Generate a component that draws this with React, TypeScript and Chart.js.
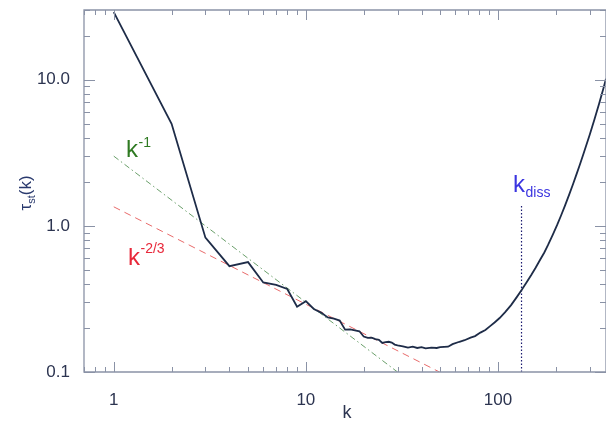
import React, { useEffect, useRef } from "react";
import { Chart, registerables } from "chart.js";

Chart.register(...registerables);

// Main curve: tau_st(k)
const kValues = [
  1, 2, 3, 4, 5, 6, 7, 8, 9, 10, 11, 12, 13, 14, 15, 16, 17, 18, 19, 20,
  21, 22, 23, 24, 25, 26, 27, 28, 29, 30, 32, 34, 36, 38, 40, 42, 45, 48, 50,
  55, 58, 63, 67, 72, 76, 81, 86, 91, 96, 102, 109, 117, 125, 133, 141, 149,
  157, 166, 174, 182, 193, 203, 213, 223, 235, 246, 257, 267, 279, 291, 300,
  309, 318, 328, 336, 344, 352, 361, 365,
];
const tauValues = [
  29, 5.0, 0.83, 0.53, 0.565, 0.41, 0.395, 0.37, 0.28, 0.305, 0.27, 0.255,
  0.236, 0.232, 0.225, 0.195, 0.196, 0.193, 0.19, 0.175, 0.171, 0.172, 0.168,
  0.166, 0.158, 0.16, 0.161, 0.159, 0.154, 0.152, 0.15, 0.147, 0.149, 0.146,
  0.148, 0.145, 0.147, 0.146, 0.148, 0.149, 0.155, 0.161, 0.165, 0.172, 0.176,
  0.186, 0.194, 0.206, 0.218, 0.234, 0.257, 0.287, 0.324, 0.365, 0.411, 0.461,
  0.517, 0.588, 0.655, 0.737, 0.87, 1.011, 1.177, 1.37, 1.642, 1.936, 2.276,
  2.631, 3.125, 3.7, 4.19, 4.744, 5.364, 6.147, 6.855, 7.641, 8.507, 9.616,
  10.14,
];

// Reference power laws
const kSlope1 = [1, 30];
const tauSlope1 = [3.0, 0.1];
const kSlope23 = [1, 49.6];
const tauSlope23 = [1.35, 0.1];

// Dissipation wavenumber marker
const kDissX = [132.6, 132.6];
const kDissY = [0.1, 1.4];

// Axis ticks
const xTickValues = [1, 10, 100];
const yTickValues = [0.1, 1, 10];

const X_MIN = 0.7;
const X_MAX = 365;
const Y_MIN = 0.1;
const Y_MAX = 30;

const FONT = '"Liberation Sans", Arial, Helvetica, sans-serif';
const FRAME = "#8a92a6";
const LABEL = "#2c3450";

const zip = (xs: number[], ys: number[]) => xs.map((x, i) => ({ x, y: ys[i] }));

function minorValues(min: number, max: number): { v: number; major: boolean }[] {
  const out: { v: number; major: boolean }[] = [];
  for (let e = -3; e <= 4; e++) {
    for (let m = 1; m <= 9; m++) {
      const v = m * Math.pow(10, e);
      if (v >= min * 0.9999 && v <= max * 1.0001) out.push({ v, major: m === 1 });
    }
  }
  return out;
}

const framePlugin = {
  id: "framePlugin",
  afterDatasetsDraw(chart: any) {
    const { ctx, chartArea } = chart;
    const xs = chart.scales.x;
    const ys = chart.scales.y;
    const { left, right, top, bottom } = chartArea;
    ctx.save();
    ctx.strokeStyle = FRAME;
    ctx.lineWidth = 1.3;
    ctx.beginPath();
    ctx.rect(left, top, right - left, bottom - top);
    ctx.stroke();

    ctx.lineWidth = 1;
    ctx.beginPath();
    for (const t of minorValues(X_MIN, X_MAX)) {
      const px = Math.round(xs.getPixelForValue(t.v)) + 0.5;
      const len = t.major ? 10 : 5;
      ctx.moveTo(px, bottom);
      ctx.lineTo(px, bottom - len);
      ctx.moveTo(px, top);
      ctx.lineTo(px, top + len);
    }
    for (const t of minorValues(Y_MIN, Y_MAX)) {
      const py = Math.round(ys.getPixelForValue(t.v)) + 0.5;
      const len = t.major ? 11 : 6;
      ctx.moveTo(left, py);
      ctx.lineTo(left + len, py);
      ctx.moveTo(right, py);
      ctx.lineTo(right - len, py);
    }
    ctx.stroke();

    // annotations
    ctx.textBaseline = "alphabetic";
    ctx.textAlign = "left";
    const drawPow = (
      base: string,
      sup: string,
      x: number,
      y: number,
      color: string,
      baseSize: number,
      supSize: number,
      supDy: number
    ) => {
      ctx.fillStyle = color;
      ctx.font = `${baseSize}px ${FONT}`;
      ctx.fillText(base, x, y);
      const w = ctx.measureText(base).width;
      ctx.font = `${supSize}px ${FONT}`;
      ctx.fillText(sup, x + w + 0.5, y + supDy);
    };
    drawPow("k", "-1", 126, 157, "#2f7a22", 24, 14, -10);
    drawPow("k", "-2/3", 128, 265, "#e8283a", 24, 14, -12);
    drawPow("k", "diss", 513, 192, "#3b35e0", 24, 14, 5);

    // x title
    ctx.fillStyle = LABEL;
    ctx.font = `18px ${FONT}`;
    ctx.textAlign = "center";
    ctx.fillText("k", (left + right) / 2 + 2, 418);

    // y title (rotated)
    ctx.save();
    ctx.translate(31, 193);
    ctx.rotate(-Math.PI / 2);
    ctx.textAlign = "left";
    ctx.fillStyle = "#2a3a6e";
    ctx.font = `17px ${FONT}`;
    const wTau = ctx.measureText("τ").width;
    const wParen = ctx.measureText("(k)").width;
    ctx.font = `11px ${FONT}`;
    const wSub = ctx.measureText("st").width;
    const total = wTau + wSub + wParen;
    let cx = -total / 2;
    ctx.font = `17px ${FONT}`;
    ctx.fillText("τ", cx, 0);
    cx += wTau;
    ctx.font = `11px ${FONT}`;
    ctx.fillText("st", cx, 4);
    cx += wSub;
    ctx.font = `17px ${FONT}`;
    ctx.fillText("(k)", cx, 0);
    ctx.restore();

    ctx.restore();
  },
};

export default function App() {
  const ref = useRef<HTMLCanvasElement | null>(null);
  useEffect(() => {
    document.body.style.margin = "0";
    const canvas = ref.current;
    if (!canvas) return;
    const chart = new Chart(canvas, {
      type: "line",
      data: {
        datasets: [
          {
            label: "tau",
            data: zip(kValues, tauValues),
            borderColor: "#1e2c48",
            borderWidth: 1.8,
            pointRadius: 0,
            tension: 0,
          },
          {
            label: "k^-1",
            data: zip(kSlope1, tauSlope1),
            borderColor: "#6a9f6a",
            borderWidth: 1,
            borderDash: [6, 3, 1.5, 3],
            pointRadius: 0,
          },
          {
            label: "k^-2/3",
            data: zip(kSlope23, tauSlope23),
            borderColor: "#e86a6a",
            borderWidth: 1,
            borderDash: [7, 5],
            pointRadius: 0,
          },
          {
            label: "kdiss",
            data: zip(kDissX, kDissY),
            borderColor: "#1a1a70",
            borderWidth: 1.2,
            borderDash: [1.5, 2],
            pointRadius: 0,
          },
        ],
      },
      options: {
        animation: false,
        responsive: false,
        parsing: false as any,
        layout: { padding: { top: 10, right: 0, left: 0, bottom: 0 } },
        plugins: {
          legend: { display: false },
          tooltip: { enabled: false },
        },
        scales: {
          x: {
            type: "logarithmic",
            min: X_MIN,
            max: X_MAX,
            grid: { display: false },
            border: { display: false },
            ticks: {
              color: LABEL,
              font: { family: FONT, size: 17 },
              padding: 10,
              maxRotation: 0,
              callback: (v: any) => String(v),
            },
            afterBuildTicks: (s: any) => {
              s.ticks = xTickValues.map((v) => ({ value: v }));
            },
            afterFit: (s: any) => {
              s.height = 49;
              s.paddingLeft = 0;
              s.paddingRight = 0;
            },
          },
          y: {
            type: "logarithmic",
            min: Y_MIN,
            max: Y_MAX,
            grid: { display: false },
            border: { display: false },
            ticks: {
              color: LABEL,
              font: { family: FONT, size: 17 },
              padding: 6,
              callback: (v: any) => Number(v).toFixed(1),
            },
            afterBuildTicks: (s: any) => {
              s.ticks = yTickValues.map((v) => ({ value: v }));
            },
            afterFit: (s: any) => {
              s.width = 84;
              s.paddingTop = 0;
              s.paddingBottom = 0;
            },
          },
        },
      },
      plugins: [framePlugin],
    });
    return () => chart.destroy();
  }, []);
  return (
    <canvas
      ref={ref}
      width={606}
      height={421}
      style={{ display: "block", width: 606, height: 421 }}
    />
  );
}
